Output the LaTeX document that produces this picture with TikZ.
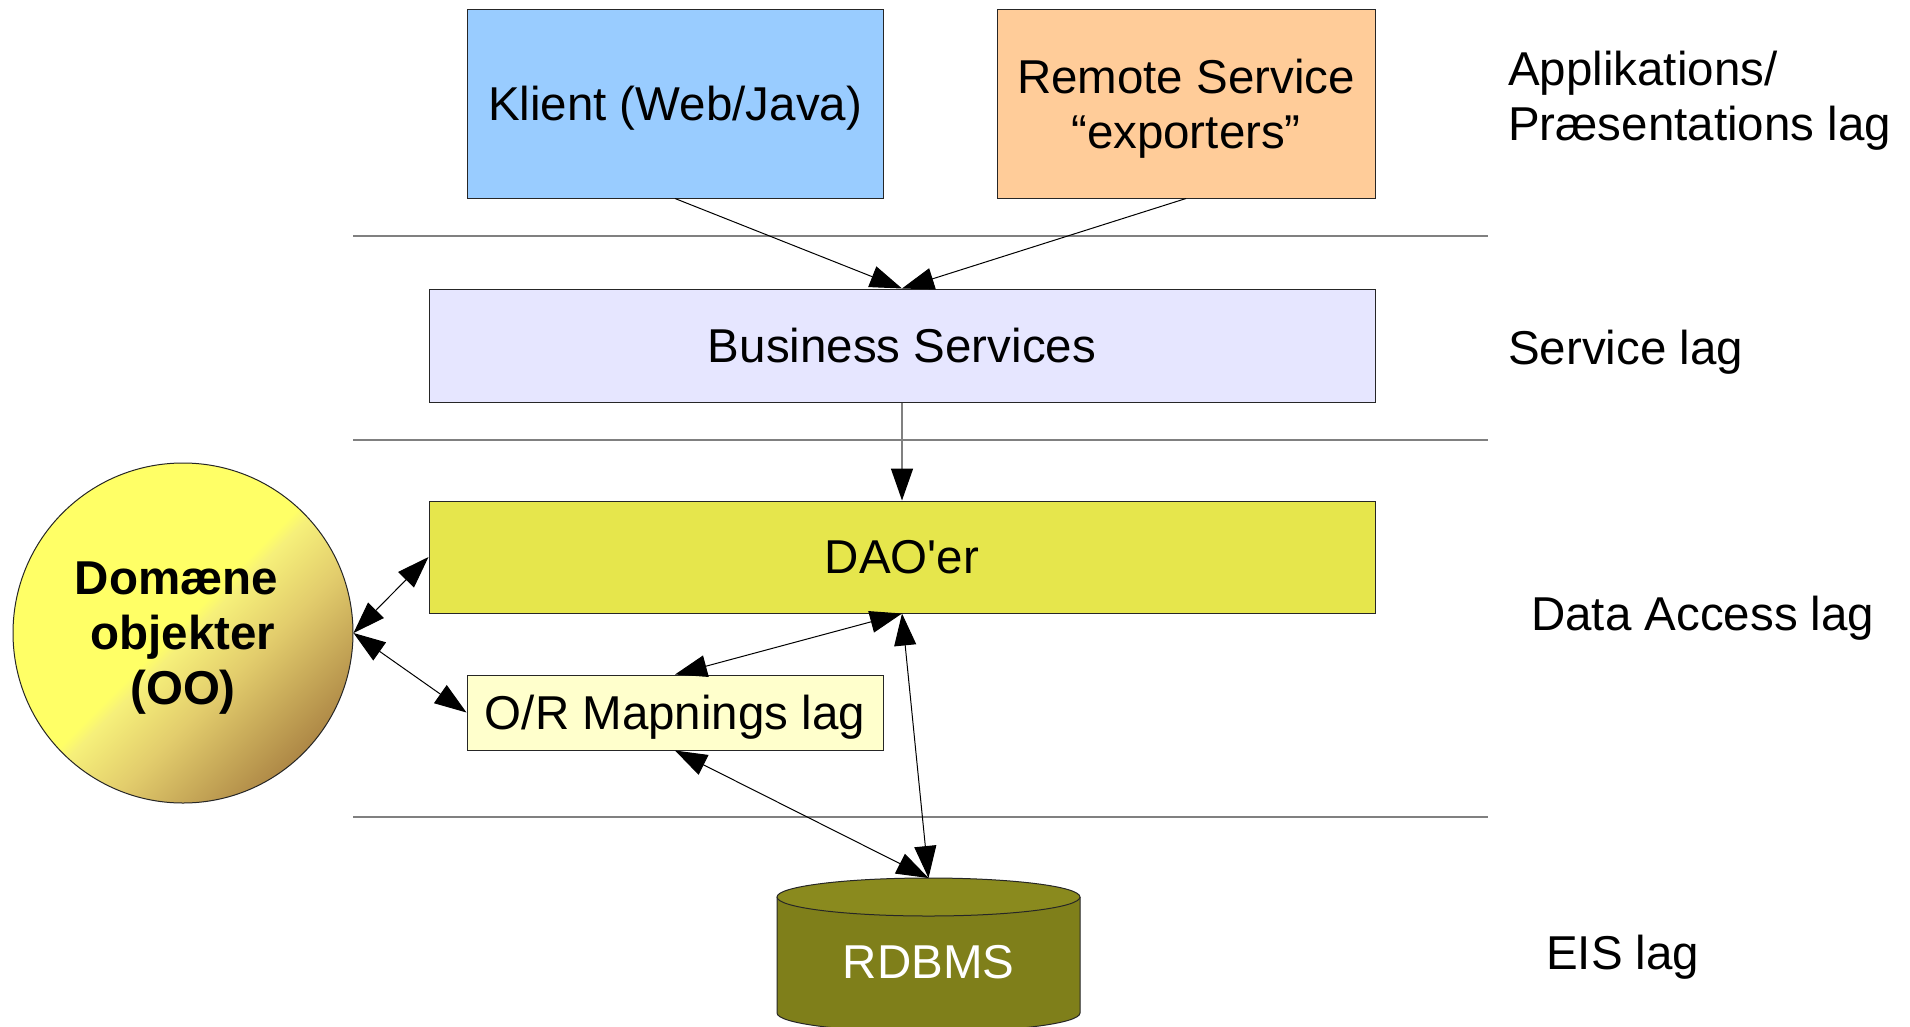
\documentclass[tikz,border=0pt]{standalone}
\usepackage{fontspec}
\setmainfont{Liberation Sans}[Ligatures=TeXOff]
\usetikzlibrary{arrows.meta}

\definecolor{klientblue}{HTML}{99CCFF}
\definecolor{remoteorange}{HTML}{FFCC99}
\definecolor{bslavender}{HTML}{E6E6FF}
\definecolor{daoyellow}{HTML}{E6E64C}
\definecolor{orcream}{HTML}{FFFFCC}
\definecolor{sepgray}{HTML}{808080}
\definecolor{dbbody}{HTML}{7F7F1A}
\definecolor{dbtopfill}{HTML}{8A8A1E}
\definecolor{domyellow}{HTML}{FFFF66}
\definecolor{domlight}{HTML}{F6F07A}
\definecolor{domgold}{HTML}{E2CC6C}
\definecolor{dombrown}{HTML}{AE8846}

% diagonal gold shading of the domain-object sphere
\pgfdeclareverticalshading{domshade}{100bp}{%
  color(0bp)=(dombrown); color(25bp)=(dombrown); color(40bp)=(domgold);
  color(49bp)=(domlight); color(51bp)=(domyellow); color(100bp)=(domyellow)}

\begin{document}
\begin{tikzpicture}[x=1pt,y=-1pt,
  txt/.style={font=\fontsize{47.5}{55}\selectfont, text depth=0pt},
  layerbox/.style={draw=black!85, line width=1pt, inner sep=0pt, txt, align=center},
  sepline/.style={draw=sepgray, line width=2pt},
  bigtip/.tip={Triangle[length=32pt,width=22pt,color=black]},
  tip/.style={-bigtip, line width=1pt},
  dtip/.style={bigtip-bigtip, line width=1pt},
  lagtxt/.style={txt, anchor=west, align=left, inner sep=0pt}]

\useasboundingbox[fill=white] (0,0) rectangle (1910,1026);

% layer separators
\draw[sepline] (353,236) -- (1488,236);
\draw[sepline] (353,440) -- (1488,440);
\draw[sepline] (353,817) -- (1488,817);

% boxes
\node[layerbox, fill=klientblue, minimum width=416pt, minimum height=189pt] (klient) at (675,103.5) {Klient (Web/Java)};
\node[layerbox, fill=remoteorange, minimum width=378pt, minimum height=189pt] (remote) at (1186,103.5) {Remote Service\\“exporters”};
\node[layerbox, fill=bslavender, minimum width=946pt, minimum height=113pt] (bs) at (902,345.5) {Business Services};
\node[layerbox, fill=daoyellow, minimum width=946pt, minimum height=112pt] (dao) at (902,557) {DAO'er};
\node[layerbox, fill=orcream, minimum width=416pt, minimum height=75pt] (or) at (675,712.5) {O/R Mapnings lag};

% domain objects
\node[circle, draw=black!85, line width=1pt, minimum size=340pt, inner sep=0pt,
      shading=domshade, shading angle=45, txt, font=\fontsize{47.5}{55}\selectfont\bfseries,
      align=center] (dom) at (183,633) {Domæne\kern0.278em\\objekter\\(OO)};

% database cylinder
\fill[dbbody] (777,897) -- (777,1013) arc[start angle=180,end angle=360,x radius=151.5pt,y radius=19pt] -- (1080,897) -- cycle;
\draw[line width=1pt, black!85] (777,897) -- (777,1013) arc[start angle=180,end angle=360,x radius=151.5pt,y radius=19pt] -- (1080,897);
\filldraw[fill=dbtopfill, draw=black!85, line width=1pt] (928.5,897) ellipse [x radius=151.5pt, y radius=19pt];
\coordinate (dbtop) at (928.5,878);
\node[txt, text=white] (db) at (928.5,962) {RDBMS};

% connectors
\draw[tip] (klient.south) -- (bs.north);
\draw[tip] (remote.south) -- (bs.north);
\draw[tip, draw=sepgray, line width=1.5pt] (bs.south) -- (dao.north);
\draw[dtip] (dao.west) -- (dom.east);
\draw[dtip] (dom.east) -- (or.west);
\draw[dtip] (dao.south) -- (or.north);
\draw[dtip] (or.south) -- (dbtop);
\draw[dtip] (dao.south) -- (dbtop);

% layer names
\node[lagtxt] (lapp) at (1508,96) {Applikations/\\Præsentations lag};
\node[lagtxt] (lsvc) at (1508,347) {Service lag};
\node[lagtxt] (ldao) at (1531,613) {Data Access lag};
\node[lagtxt] (leis) at (1546,952) {EIS lag};
\end{tikzpicture}
\end{document}
